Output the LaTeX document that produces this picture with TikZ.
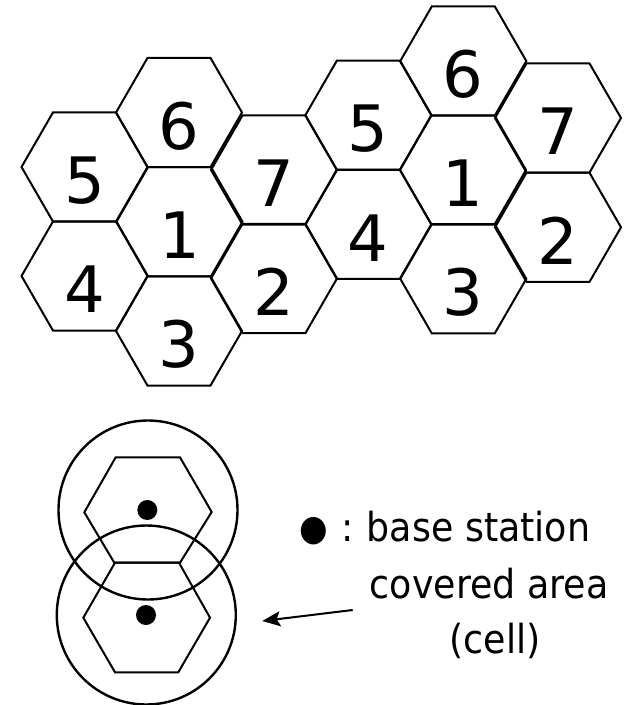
\documentclass[tikz,border=0pt]{standalone}
\usepackage{fontspec}
\setmainfont{DejaVu Sans}[FakeStretch=0.91]
\newfontfamily\digitfont{DejaVu Sans}
\usetikzlibrary{shapes.geometric,arrows.meta}
\begin{document}
\begin{tikzpicture}[x=1bp,y=-1bp,
  hexcell/.style={regular polygon, regular polygon sides=6, minimum size=126bp,
    inner sep=0pt, draw, line width=2bp},
  digit/.style={font=\digitfont\fontsize{64bp}{70bp}\selectfont, inner sep=0pt, yshift=-13.5bp},
  cellline/.style={draw, line width=2bp},
  coverage/.style={circle, draw, line width=2.4bp, minimum size=179bp, inner sep=0pt},
  bsdot/.style={circle, fill=black, inner sep=0pt, minimum size=20bp},
  legend/.style={font=\fontsize{40bp}{48bp}\selectfont, inner sep=0pt},
  pointer/.style={line width=2bp, -{Stealth[length=18bp,width=15bp,inset=3.5bp]}}
]
\useasboundingbox (0,0) rectangle (631,705);

% left cluster
\node[hexcell, label={[digit]center:6}] (L6) at (179,112.5) {};
\node[hexcell, label={[digit]center:5}] (L5) at (84.5,167) {};
\node[hexcell, label={[digit]center:1}] (L1) at (179.5,221.7) {};
\node[hexcell, label={[digit]center:4}] (L4) at (84.5,276) {};
\node[hexcell, label={[digit]center:3}] (L3) at (179,331) {};
\node[hexcell, label={[digit]center:7}] (L7) at (274,170) {};
\node[hexcell, label={[digit]center:2}] (L2) at (274,278.5) {};

% right cluster
\node[hexcell, label={[digit]center:6}] (R6) at (463.3,61) {};
\node[hexcell, label={[digit]center:5}] (R5) at (368.3,115.3) {};
\node[hexcell, label={[digit]center:1}] (R1) at (463,170) {};
\node[hexcell, label={[digit]center:4}] (R4) at (368.3,224.3) {};
\node[hexcell, label={[digit]center:3}] (R3) at (463.3,278.8) {};
\node[hexcell, label={[digit]center:7}] (R7) at (558,118) {};
\node[hexcell, label={[digit]center:2}] (R2) at (558,227.3) {};

% lower illustration
\draw[cellline] (84.3,512.3) -- (115.7,457.3) -- (180,457.3) -- (211.7,512)
  -- (180,562.7) -- (114.3,562.7) -- cycle;
\draw[cellline] (83.3,617.7) -- (115,562.7) -- (179,562.7) -- (210,617.7)
  -- (178.3,672.3) -- (115,672.3) -- cycle;
\node[coverage] (cov1) at (148,510) {};
\node[coverage] (cov2) at (146.3,615) {};
\node[bsdot] (bs1) at (147.3,510) {};
\node[bsdot] (bs2) at (146,615) {};

% legend
\node[legend, anchor=base west] (lbs) at (300,541.7)
  {\makebox[28bp]{\raisebox{1.5bp}{\fontsize{36bp}{36bp}\selectfont ●}}\makebox[38.5bp]{:}base station};
\node[legend, anchor=base] (lcov) at (489.2,598.3) {covered area};
\node[legend, anchor=base] (lcell) at (495,653.3) {(cell)};

\coordinate (atail) at (352.7,610);
\coordinate (atip) at (262.3,621);
\draw[pointer] (atail) -- (atip);
\end{tikzpicture}
\end{document}
